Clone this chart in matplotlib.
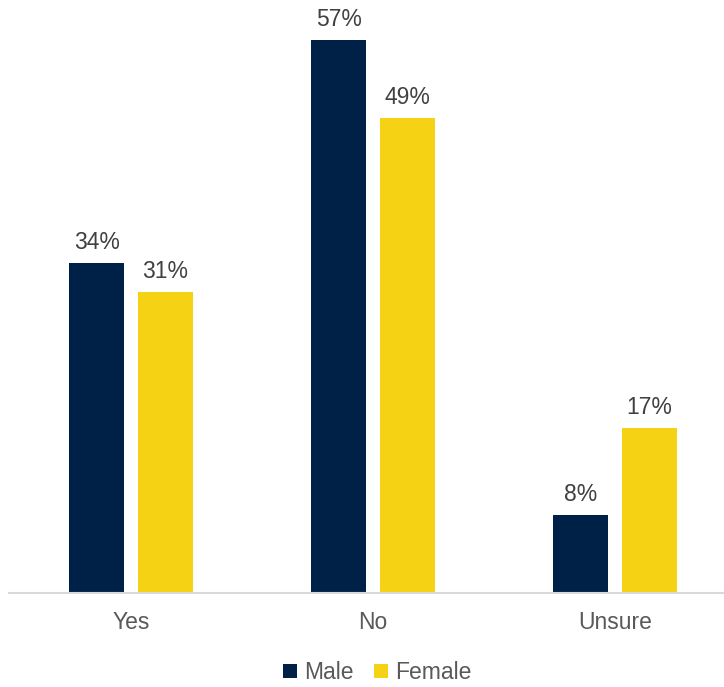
import matplotlib.pyplot as plt
import numpy as np

plt.rcParams['font.family'] = ['Liberation Sans', 'DejaVu Sans']

categories = ['Yes', 'No', 'Unsure']
male = [34, 57, 8]
female = [31, 49, 17]

navy = '#002147'
yellow = '#F5D314'

fig = plt.figure(figsize=(7.24, 6.87), dpi=100)
ax = fig.add_axes([0.0124, 0.1368, 0.9876, 0.847])

x = np.arange(len(categories))
w = 0.228
b1 = ax.bar(x - 0.142, male, w, color=navy, label='Male')
b2 = ax.bar(x + 0.142, female, w, color=yellow, label='Female')

for bars, vals in [(b1, male), (b2, female)]:
    for bar, v in zip(bars, vals):
        ax.annotate(f'{v}%', (bar.get_x() + bar.get_width() / 2, v),
                    xytext=(0, 6.5), textcoords='offset points',
                    ha='center', va='bottom', fontsize=16.5, color='#404040')

ax.set_xlim(-0.504, 2.45)
ax.set_ylim(0, 60)
ax.set_xticks(x)
ax.set_xticklabels(categories, fontsize=16.5, color='#595959')
ax.tick_params(axis='x', length=0, pad=13)
ax.set_yticks([])
for s in ['top', 'right', 'left']:
    ax.spines[s].set_visible(False)
ax.spines['bottom'].set_color('#D9D9D9')
ax.spines['bottom'].set_linewidth(1.5)

fig.legend(loc='center', bbox_to_anchor=(0.521, 0.021), ncol=2, frameon=False,
           fontsize=16.5, handlelength=0.6, handleheight=0.6, handletextpad=0.3,
           columnspacing=0.9, labelcolor='#595959')

fig.savefig('out.png', dpi=100)
